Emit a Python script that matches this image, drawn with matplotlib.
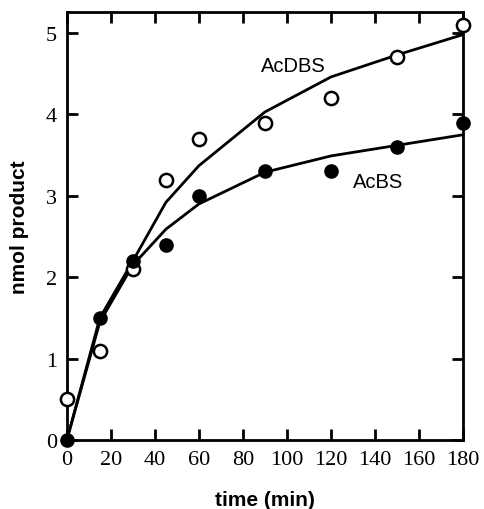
import matplotlib.pyplot as plt
import numpy as np

# measured points
time = [0, 15, 30, 45, 60, 90, 120, 150, 180]
acdbs = [0.5, 1.1, 2.1, 3.2, 3.7, 3.9, 4.2, 4.7, 5.1]
acbs = [0.0, 1.5, 2.2, 2.4, 3.0, 3.3, 3.3, 3.6, 3.9]

# fitted curves
fit_acdbs = [0.0, 1.5, 2.2, 2.92, 3.37, 4.03, 4.46, 4.73, 4.98]
fit_acbs = [0.0, 1.45, 2.15, 2.59, 2.9, 3.29, 3.49, 3.62, 3.75]

fig = plt.figure(figsize=(4.84, 5.10), dpi=100)
ax = fig.add_axes([0.138, 0.135, 0.819, 0.84])

ax.plot(time, fit_acdbs, color='black', lw=2.0, zorder=2)
ax.plot(time, fit_acbs, color='black', lw=2.0, zorder=2)
ax.plot(time, acdbs, 'o', ms=9.5, mfc='white', mec='black', mew=1.8,
        clip_on=False, zorder=3)
ax.plot(time, acbs, 'o', ms=9.5, mfc='black', mec='black',
        clip_on=False, zorder=3)

ax.text(88, 4.6, 'AcDBS', fontsize=14.5, family='Liberation Sans', va='center')
ax.text(130, 3.18, 'AcBS', fontsize=14.5, family='Liberation Sans', va='center')

ax.set_xlim(0, 180)
ax.set_ylim(0, 5.26)
ax.set_xticks(np.arange(0, 181, 20))
ax.set_yticks(np.arange(0, 6, 1))
ax.tick_params(direction='in', length=8, width=2, top=True, right=True,
               labelsize=16, pad=7)
for lab in ax.get_xticklabels() + ax.get_yticklabels():
    lab.set_family('Liberation Serif')
for s in ax.spines.values():
    s.set_linewidth(2)

ax.set_xlabel('time (min)', fontsize=15, fontweight='bold',
              family='Liberation Sans', labelpad=15)
ax.set_ylabel('nmol product', fontsize=15, fontweight='bold',
              family='Liberation Sans', labelpad=12)

fig.savefig('out.png', dpi=100)
